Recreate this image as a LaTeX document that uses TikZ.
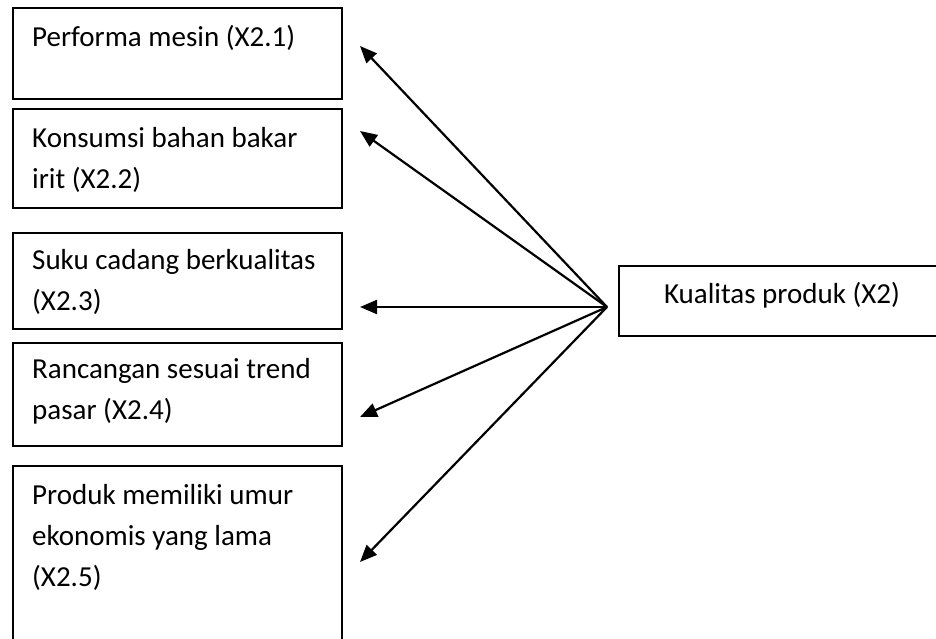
\documentclass[tikz,border=0pt]{standalone}
\usepackage{fontspec}
\setmainfont{Carlito}
\usetikzlibrary{arrows.meta}
\begin{document}
\begin{tikzpicture}[x=1pt,y=-1pt,
  frame/.style={draw, line width=1.7pt, inner sep=0pt, anchor=north west},
  caption/.style={anchor=north west, inner sep=0pt, align=left,
    font=\fontsize{29}{41}\selectfont},
  link/.style={line width=2.2pt, -{Triangle[length=17pt,width=14pt]}}]

\useasboundingbox (0,0) rectangle (936,638);

% indicator boxes on the left
\node[frame, minimum width=329pt, minimum height=91pt]  (b1) at (12,7)   {};
\node[frame, minimum width=329pt, minimum height=99pt]  (b2) at (12,108) {};
\node[frame, minimum width=329pt, minimum height=96pt]  (b3) at (12,232) {};
\node[frame, minimum width=329pt, minimum height=103pt] (b4) at (12,342) {};
\node[frame, minimum width=329pt, minimum height=200pt] (b5) at (12,465) {};

\node[caption] (t1) at (32,22)  {\rule{0pt}{24pt}Performa mesin (X2.1)};
\node[caption] (t2) at (32,123) {\rule{0pt}{24pt}Konsumsi bahan bakar\\irit (X2.2)};
\node[caption] (t3) at (32,245) {\rule{0pt}{24pt}Suku cadang berkualitas\\(X2.3)};
\node[caption] (t4) at (32,354) {\rule{0pt}{24pt}Rancangan sesuai trend\\pasar (X2.4)};
\node[caption] (t5) at (32,480) {\rule{0pt}{24pt}Produk memiliki umur\\ekonomis yang lama\\(X2.5)};

% construct box on the right
\node[frame, minimum width=330pt, minimum height=70pt] (kq) at (618,265) {};
\node[caption, anchor=north] (kqt) at (782,279) {\rule{0pt}{24pt}Kualitas produk (X2)};

% arrows fanning out from one point
\coordinate (hub) at (607,307);
\coordinate (p1) at (360,46);
\coordinate (p2) at (360,131);
\coordinate (p3) at (360,307);
\coordinate (p4) at (360,417);
\coordinate (p5) at (360,562);

\foreach \k in {1,...,5} \draw[link] (hub) -- (p\k);
\end{tikzpicture}
\end{document}
